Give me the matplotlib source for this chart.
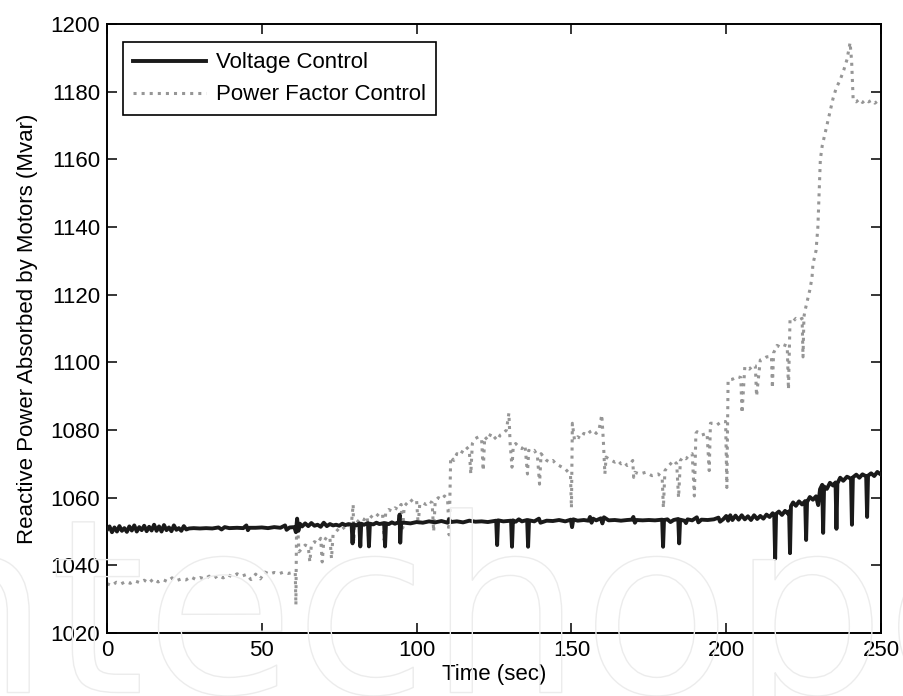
import matplotlib
matplotlib.use("Agg")
import matplotlib.pyplot as plt
import matplotlib.patheffects as pe

plt.rcParams["font.family"] = ["Liberation Sans", "DejaVu Sans"]

# Voltage Control (black, solid)
vc_t = [0, 0.8, 1.6, 2.4, 3.2, 4, 4.8, 5.6, 6.4, 7.2, 8, 8.8, 9.6, 10.4, 11.2, 12, 12.8, 13.6,
        14.4, 15.2, 16, 16.8, 17.6, 18.4, 19.2, 20, 20.8, 21.6, 22.4, 23.2, 24, 24.8, 25.6,
        26.5, 28, 30, 32, 34, 36, 37, 38, 39.5, 42, 44, 45, 45.5, 46, 48, 50, 52, 54, 56,
        57.5, 58, 59, 60.5, 61, 61.4, 61.8, 62.3, 63, 64, 65, 66, 67, 68, 69, 70, 71, 72,
        73, 74, 75, 76, 77, 78, 79, 79.3, 79.6, 80.5, 81.5, 81.8, 82.1, 83, 84.3, 84.6,
        84.9, 86, 87, 88, 89.5, 89.8, 90.1, 91, 92, 93, 94.3, 94.5, 94.7, 95, 96, 98, 100,
        102, 104, 106, 108, 110, 110.5, 111, 113, 115, 117, 119, 121, 123, 125.7, 126,
        126.3, 128, 130.5, 130.8, 131.1, 132, 133, 134, 135.7, 136, 136.3, 138, 139.5, 140,
        142, 144, 146, 148, 149.8, 150.2, 150.6, 152, 154, 155.5, 156, 156.5, 157, 158,
        159.5, 160, 160.5, 162, 164, 166, 168, 169.5, 170, 170.5, 171, 173, 175, 177, 179.3,
        179.6, 179.9, 181, 182, 183, 184.5, 184.8, 185.1, 186.5, 187, 187.5, 189, 190.5,
        191, 192, 194, 196, 197.5, 198, 199, 200, 200.6, 201.3, 202, 203, 204, 205, 206,
        207, 208, 209, 210, 211, 212, 213, 214, 215, 215.5, 215.8, 216.1, 217, 218, 219,
        220, 220.3, 220.6, 220.9, 221.6, 222.5, 223.5, 224.5, 225.5, 225.8, 226.1, 227,
        228, 229, 229.7, 230.3, 231, 231.3, 231.6, 232.5, 233.5, 234.5, 235.3, 235.6,
        235.9, 236.8, 237.8, 239, 240.3, 240.6, 240.9, 242, 243, 244, 245.2, 245.5, 245.8,
        246.8, 247.8, 248.8, 250]
vc_v = [1050.5, 1051.5, 1049.8, 1051.2, 1050.0, 1051.6, 1050.2, 1051.0, 1049.9, 1051.5,
        1050.3, 1051.8, 1050.0, 1051.3, 1050.4, 1051.7, 1050.1, 1051.4, 1050.3, 1052.0,
        1050.2, 1051.5, 1050.0, 1051.9, 1050.4, 1051.2, 1050.1, 1051.8, 1050.5, 1051.0,
        1050.2, 1051.6, 1050.6, 1050.9, 1051.0, 1050.9, 1051.0, 1050.9, 1051.2, 1050.6,
        1051.3, 1051.0, 1051.1, 1051.0, 1051.8, 1050.4, 1051.1, 1051.1, 1051.2, 1051.0,
        1051.3, 1051.1, 1051.8, 1050.5, 1051.2, 1051.3, 1049.8, 1053.8, 1050.2, 1052.3,
        1051.5, 1052.4, 1051.6, 1052.5, 1051.7, 1052.0, 1051.4, 1052.6, 1051.6, 1052.2,
        1051.8, 1052.0, 1051.7, 1052.3, 1051.9, 1052.2, 1052.0, 1046.5, 1052.2, 1051.8,
        1052.4, 1045.6, 1052.3, 1052.0, 1052.5, 1045.6, 1052.3, 1052.1, 1052.6, 1052.2,
        1052.5, 1045.6, 1052.4, 1052.2, 1052.7, 1052.3, 1052.8, 1055.0, 1046.7, 1052.5,
        1052.6, 1052.4, 1052.8, 1052.6, 1053.0, 1052.7, 1053.1, 1052.6, 1053.6, 1052.8,
        1053.0, 1052.7, 1053.2, 1052.9, 1053.0, 1052.8, 1053.2, 1046.0, 1053.3, 1053.0,
        1053.2, 1045.5, 1053.3, 1052.9, 1053.6, 1053.0, 1053.4, 1045.5, 1053.3, 1053.0,
        1053.8, 1052.6, 1053.2, 1053.1, 1053.4, 1053.0, 1053.5, 1051.3, 1053.6, 1053.2,
        1053.4, 1053.2, 1054.3, 1052.6, 1053.8, 1053.3, 1053.9, 1052.4, 1054.2, 1053.3,
        1053.4, 1053.2, 1053.4, 1053.5, 1054.3, 1052.6, 1053.4, 1053.3, 1053.4, 1053.3,
        1053.5, 1045.5, 1053.4, 1053.6, 1052.8, 1053.4, 1053.7, 1046.5, 1053.5, 1053.2,
        1052.5, 1053.6, 1053.3, 1054.2, 1052.7, 1053.5, 1053.4, 1053.6, 1054.1, 1052.9,
        1053.6, 1054.6, 1053.2, 1054.8, 1053.4, 1054.7, 1053.5, 1054.8, 1053.6, 1054.5,
        1053.4, 1054.8, 1053.7, 1054.6, 1053.8, 1055.0, 1054.3, 1055.4, 1054.8, 1042.0,
        1055.2, 1055.9, 1054.9, 1056.1, 1055.2, 1056.0, 1043.6, 1057.5, 1058.6, 1057.6,
        1058.9, 1058.0, 1059.0, 1047.5, 1058.7, 1060.2, 1059.4, 1060.4, 1057.8, 1062.5,
        1063.8, 1049.6, 1063.3, 1062.6, 1064.4, 1063.6, 1064.5, 1050.8, 1064.2, 1065.9,
        1065.0, 1066.2, 1065.6, 1052.0, 1066.0, 1066.8, 1065.9, 1066.9, 1066.3, 1054.3,
        1066.5, 1067.2, 1066.4, 1067.6, 1066.8]

# Power Factor Control (gray, dotted)
pf_t = [0, 1.5, 3, 4.5, 6, 7.5, 9, 10.5, 12, 13.5, 15, 16.5, 18, 19.5, 21, 22.5, 24, 25.5,
        27, 28.5, 30, 31.5, 33, 34.5, 36, 37.5, 39, 40.5, 42, 43.5, 45, 46.5, 48, 49.5, 51,
        52.5, 54, 55.5, 57, 58.5, 60, 60.8, 61.0, 61.2, 61.5, 62, 63, 64, 65, 65.5, 66, 67,
        68, 69, 69.5, 70, 71, 72, 72.5, 73, 74, 75, 76, 77, 78, 79, 79.5, 79.7, 80, 81, 82,
        83, 84, 84.5, 85, 86, 87, 88, 89, 89.5, 90, 91, 92, 93, 94, 95, 95.5, 96, 97, 98, 99,
        100, 100.5, 101, 102, 103, 104, 105, 105.5, 106, 107, 108, 109, 110, 110.5, 111, 112,
        113, 114, 115, 116, 117, 117.5, 118, 119, 120, 121, 121.5, 122, 123, 124, 125, 126,
        127, 128, 129, 129.8, 130.2, 130.8, 131.2, 132, 133, 134, 135, 135.8, 136.2, 137,
        138, 139, 139.7, 140.2, 141, 142, 143, 144, 145, 146, 147, 148, 149, 149.7, 150,
        150.3, 151, 152, 153, 154, 155, 156, 157, 158, 159, 159.8, 160.3, 160.8, 161.2, 162,
        163, 164, 165, 166, 167, 168, 169, 169.8, 170.1, 170.5, 172, 174, 176, 178, 179.3,
        179.7, 180.2, 181, 182, 183, 184, 184.6, 185.2, 186, 187, 188, 189, 189.7, 190.2,
        190.6, 192, 193.8, 194.5, 194.9, 195.8, 197, 198.5, 199.8, 200.2, 200.6, 202, 203.5,
        204.7, 205.1, 206, 207.5, 208.7, 209.4, 209.8, 211, 212, 213, 214.6, 214.9, 215.3,
        216.4, 217.5, 218.5, 219.7, 220.1, 220.6, 221.5, 222.5, 223.5, 224.5, 224.8, 225.1,
        225.5, 226, 227, 227.7, 228, 229, 229.6, 230, 230.4, 231, 232, 232.5, 233.5, 234.5,
        235.5, 236.8, 238, 239, 240, 240.5, 241, 242, 243, 244, 245, 246, 247, 248, 249, 250]
pf_v = [1034.6, 1034.0, 1035.0, 1034.5, 1035.2, 1034.7, 1035.4, 1034.9, 1035.6, 1034.8,
        1036.0, 1035.1, 1035.8, 1035.2, 1036.3, 1035.5, 1036.0, 1035.7, 1036.6, 1035.9,
        1036.4, 1036.0, 1036.8, 1036.2, 1037.0, 1036.3, 1037.2, 1036.6, 1037.5, 1036.8,
        1037.3, 1035.8, 1037.4, 1036.0, 1038.0, 1037.4, 1037.9, 1037.5, 1038.0, 1037.6,
        1037.9, 1037.8, 1028.3, 1050.0, 1053.0, 1044.0, 1045.0, 1046.0, 1045.5, 1041.0,
        1046.0, 1047.0, 1046.5, 1048.0, 1041.0, 1047.0, 1048.5, 1048.0, 1042.0, 1049.0,
        1050.0, 1051.0, 1051.5, 1050.5, 1052.0, 1053.0, 1058.0, 1047.0, 1052.0, 1053.0,
        1054.0, 1053.5, 1054.5, 1048.0, 1054.0, 1055.0, 1054.5, 1055.5, 1055.0, 1047.5,
        1055.5, 1056.5, 1056.0, 1057.0, 1056.5, 1058.0, 1051.0, 1057.5, 1058.5, 1059.5,
        1058.5, 1059.0, 1052.0, 1058.0, 1058.5, 1058.0, 1059.0, 1058.5, 1050.0, 1059.0,
        1060.0, 1059.5, 1060.5, 1059.5, 1049.0, 1072.0, 1071.0, 1073.0, 1072.5, 1074.0,
        1075.0, 1074.0, 1067.0, 1076.0, 1077.5, 1078.0, 1077.0, 1068.0, 1078.0, 1077.0,
        1079.0, 1078.0, 1077.0, 1078.5, 1079.0, 1080.0, 1085.0, 1076.0, 1069.0, 1075.0,
        1076.0, 1075.0, 1074.5, 1075.5, 1067.0, 1074.0, 1073.5, 1074.0, 1072.5, 1064.0,
        1073.0, 1072.0, 1071.0, 1070.5, 1071.0, 1070.0, 1069.5, 1069.0, 1068.5, 1067.5,
        1066.5, 1057.0, 1082.0, 1077.0, 1078.0, 1077.5, 1079.0, 1078.5, 1079.5, 1080.0,
        1079.0, 1080.5, 1084.5, 1077.0, 1067.0, 1072.0, 1071.5, 1071.0, 1070.5, 1071.0,
        1070.0, 1070.5, 1069.5, 1070.0, 1071.0, 1066.0, 1067.5, 1067.0, 1067.5, 1066.5,
        1067.0, 1066.0, 1057.0, 1068.0, 1069.0, 1070.0, 1071.0, 1070.0, 1060.0, 1071.0,
        1072.0, 1071.5, 1072.5, 1073.0, 1060.5, 1079.0, 1079.5, 1078.5, 1079.0, 1068.0,
        1082.0, 1082.0, 1081.5, 1082.5, 1082.5, 1063.0, 1094.8, 1095.0, 1095.8, 1095.5,
        1085.0, 1098.7, 1098.0, 1099.2, 1099.0, 1090.0, 1100.7, 1101.0, 1101.6, 1101.8,
        1092.4, 1102.8, 1105.0, 1104.5, 1105.2, 1104.8, 1092.0, 1112.5, 1112.0, 1113.0,
        1112.5, 1113.0, 1101.6, 1113.5, 1115.5, 1117.5, 1121.4, 1125.0, 1129.0, 1133.0,
        1140.0, 1150.0, 1160.0, 1164.0, 1168.0, 1170.0, 1174.0, 1178.0, 1181.0, 1183.5,
        1186.5, 1189.5, 1194.5, 1189.0, 1177.5, 1177.0, 1177.8, 1176.8, 1177.6, 1177.0,
        1177.5, 1176.6, 1177.3, 1176.8]

x_ticks = [0, 50, 100, 150, 200, 250]
y_ticks = [1020, 1040, 1060, 1080, 1100, 1120, 1140, 1160, 1180, 1200]

fig = plt.figure(figsize=(9.04, 6.96), dpi=100)

# very faint publisher watermark behind the axes
fig.text(-0.19, 0.005, "intechopen", fontsize=175, color="none", ha="left", va="baseline",
         family="DejaVu Sans", zorder=0,
         path_effects=[pe.Stroke(linewidth=1.0, foreground="#ececec")])

ax = fig.add_axes([0.1184, 0.0905, 0.8562, 0.875])
ax.set_facecolor("none")

ax.plot(vc_t, vc_v, color="#1a1a1a", lw=2.8, label="Voltage Control", zorder=3)
ax.plot(pf_t, pf_v, color="#969696", lw=2.2, ls=":", label="Power Factor Control", zorder=2)

ax.set_xlim(0, 250)
ax.set_ylim(1020, 1200)
ax.set_xticks(x_ticks)
ax.set_yticks(y_ticks)
ax.tick_params(direction="in", top=True, right=True, length=7, width=1.1,
               labelsize=16, pad=5)
for s in ax.spines.values():
    s.set_linewidth(1.4)

ax.set_xlabel("Time (sec)", fontsize=16, labelpad=2)
ax.set_ylabel("Reactive Power Absorbed by Motors (Mvar)", fontsize=16, labelpad=9)

leg = ax.legend(loc="upper left", bbox_to_anchor=(0.0207, 0.970), borderaxespad=0,
                fontsize=16, fancybox=False, edgecolor="black", framealpha=1,
                handlelength=3.3, handletextpad=0.45, borderpad=0.45, labelspacing=0.5)
leg.get_frame().set_linewidth(1.2)

fig.savefig("out.png", dpi=100)
